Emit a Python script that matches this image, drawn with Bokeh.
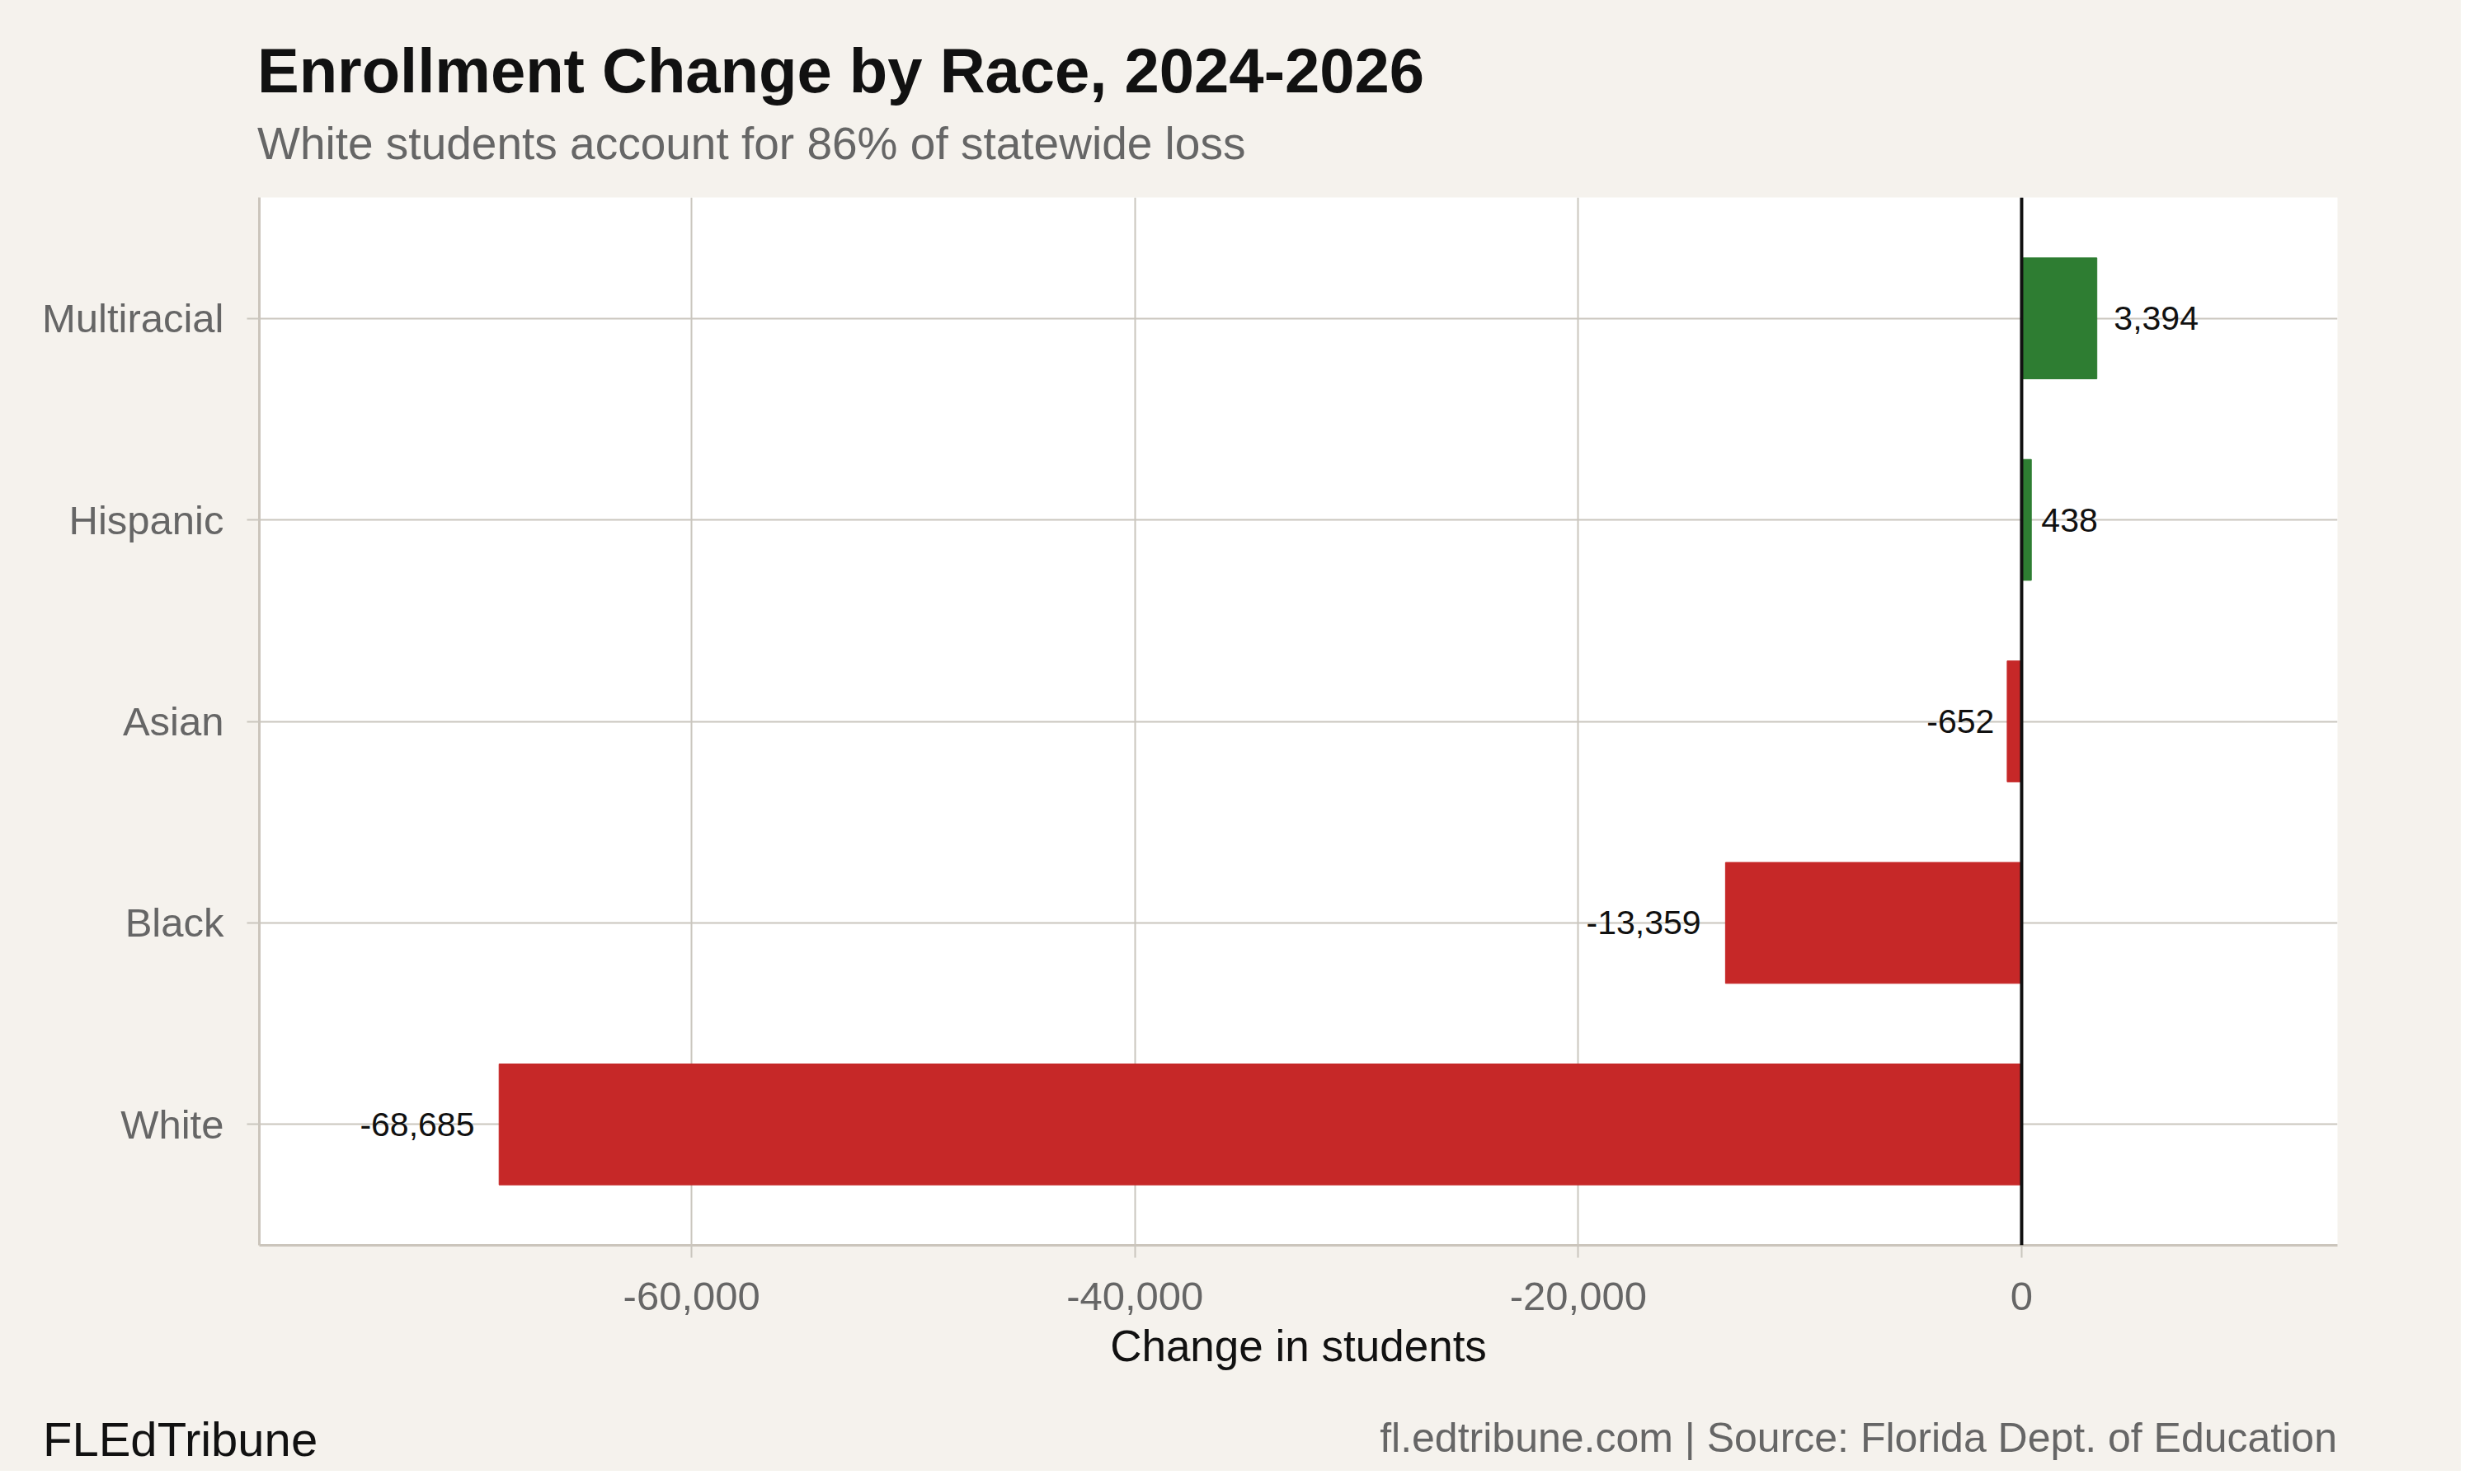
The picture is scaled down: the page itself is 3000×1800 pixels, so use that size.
from bokeh.plotting import figure
from bokeh.layouts import column
from bokeh.models import (FactorRange, Range1d, FixedTicker, NumeralTickFormatter,
                          Span, ColumnDataSource, Div)
from bokeh.core.properties import value
from bokeh.embed import file_html
from bokeh.resources import INLINE

# ---- data ----
categories = ["White", "Black", "Asian", "Hispanic", "Multiracial"]
changes = [-68685, -13359, -652, 438, 3394]
x_ticks = [-60000, -40000, -20000, 0]

title_text = "Enrollment Change by Race, 2024-2026"
subtitle_text = "White students account for 86% of statewide loss"
xlabel_text = "Change in students"
brand_text = "FLEdTribune"
source_text = "fl.edtribune.com | Source: Florida Dept. of Education"

# ---- style ----
FONT = "Liberation Sans"
BG = "#F5F2ED"
RED = "#C62828"
GREEN = "#2E7D32"
GRID = "#CAC6BE"
AXIS = "#CBC5BC"
GRAY_TXT = "#666666"
DARK = "#111111"

W = 2984
HEADER_H = 239
MAIN_H = 1451
FOOTER_H = 1784 - HEADER_H - MAIN_H
LEFT, RIGHT = 314, 150
LABEL_PX = 41


def span(text, left=None, right=None, top=0, size=50, color=DARK, bold=False):
    pos = f"left:{left}px;" if left is not None else f"right:{right}px;"
    weight = "bold" if bold else "normal"
    return (f'<div style="position:absolute;{pos}top:{top}px;'
            f"font-family:'{FONT}';font-size:{size}px;font-weight:{weight};"
            f'color:{color};line-height:1;white-space:nowrap;margin:0;padding:0;">'
            f"{text}</div>")


def panel(h, inner):
    return Div(text=(f'<div style="position:relative;width:{W}px;height:{h}px;'
                     f'background:{BG};overflow:hidden;margin:0;padding:0;">'
                     f"{inner}</div>"),
               width=W, height=h, margin=0)


# baseline offset for line-height:1 with Liberation Sans ~0.846 em
def top_for(baseline, size):
    return round(baseline - 0.846 * size, 1)


header = panel(HEADER_H,
               span(title_text, left=LEFT - 2, top=top_for(112, 76), size=76,
                    bold=True) +
               span(subtitle_text, left=LEFT - 2, top=top_for(193, 55), size=55,
                    color=GRAY_TXT))

footer_top = HEADER_H + MAIN_H
footer = panel(FOOTER_H,
               span(brand_text, left=52, top=top_for(1766 - footer_top, 58),
                    size=58) +
               span(source_text, right=RIGHT, top=top_for(1761 - footer_top, 50),
                    size=50, color=GRAY_TXT))

# ---- main chart ----
p = figure(width=W, height=MAIN_H, output_backend="svg", toolbar_location=None,
           y_range=FactorRange(factors=categories, range_padding=0.1,
                               range_padding_units="absolute"),
           x_range=Range1d(-79500, 14250),
           min_border_left=LEFT, min_border_right=RIGHT,
           min_border_top=0, min_border_bottom=180)
p.background_fill_color = "#FFFFFF"
p.border_fill_color = BG
p.outline_line_color = None

colors = [RED if v < 0 else GREEN for v in changes]
src = ColumnDataSource(dict(cat=categories, val=changes, color=colors))
p.hbar(y="cat", left=0, right="val", height=0.6, color="color", source=src)

CHAR_W = {",": 0.278, "-": 0.333}


def est_width(s):
    return sum(CHAR_W.get(c, 0.556) for c in s) * LABEL_PX


labels = [f"{v:,}" for v in changes]
offsets = [(0.25 * est_width(s) - 5) * (1 if v >= 0 else -1)
           for s, v in zip(labels, changes)]
neg = [i for i, v in enumerate(changes) if v < 0]
pos = [i for i, v in enumerate(changes) if v >= 0]


def sub(idx):
    return ColumnDataSource(dict(cat=[categories[i] for i in idx],
                                 val=[changes[i] for i in idx],
                                 lbl=[labels[i] for i in idx],
                                 off=[offsets[i] for i in idx]))


common = dict(text_font=value(FONT), text_font_size=f"{LABEL_PX}px",
              text_color=DARK, text_baseline="middle")
p.text(x="val", y="cat", text="lbl", source=sub(neg), text_align="right",
       x_offset="off", **common)
p.text(x="val", y="cat", text="lbl", source=sub(pos), text_align="left",
       x_offset="off", **common)

p.add_layout(Span(location=0, dimension="height", line_color=DARK, line_width=4))

p.xaxis.ticker = FixedTicker(ticks=x_ticks)
p.xaxis.formatter = NumeralTickFormatter(format="0,0")
p.xaxis.axis_label = xlabel_text
p.xaxis.axis_label_text_font = FONT
p.xaxis.axis_label_text_font_size = "53px"
p.xaxis.axis_label_text_font_style = "normal"
p.xaxis.axis_label_text_color = DARK
p.xaxis.axis_label_standoff = 11
for ax in (p.xaxis, p.yaxis):
    ax.major_label_text_font = FONT
    ax.major_label_text_font_size = "49px"
    ax.major_label_text_color = GRAY_TXT
    ax.axis_line_color = AXIS
    ax.axis_line_width = 3
    ax.major_tick_line_color = GRID
    ax.major_tick_line_width = 2
    ax.major_tick_out = 15
    ax.major_tick_in = 0
    ax.minor_tick_line_color = None
p.xaxis.major_label_standoff = 30
p.yaxis.major_label_standoff = 28

p.xgrid.ticker = FixedTicker(ticks=x_ticks)
p.xgrid.grid_line_color = GRID
p.xgrid.grid_line_width = 2
p.ygrid.grid_line_color = GRID
p.ygrid.grid_line_width = 2

layout = column(header, p, footer, spacing=0)
layout.background = BG
open("out.html", "w").write(file_html(layout, INLINE))
